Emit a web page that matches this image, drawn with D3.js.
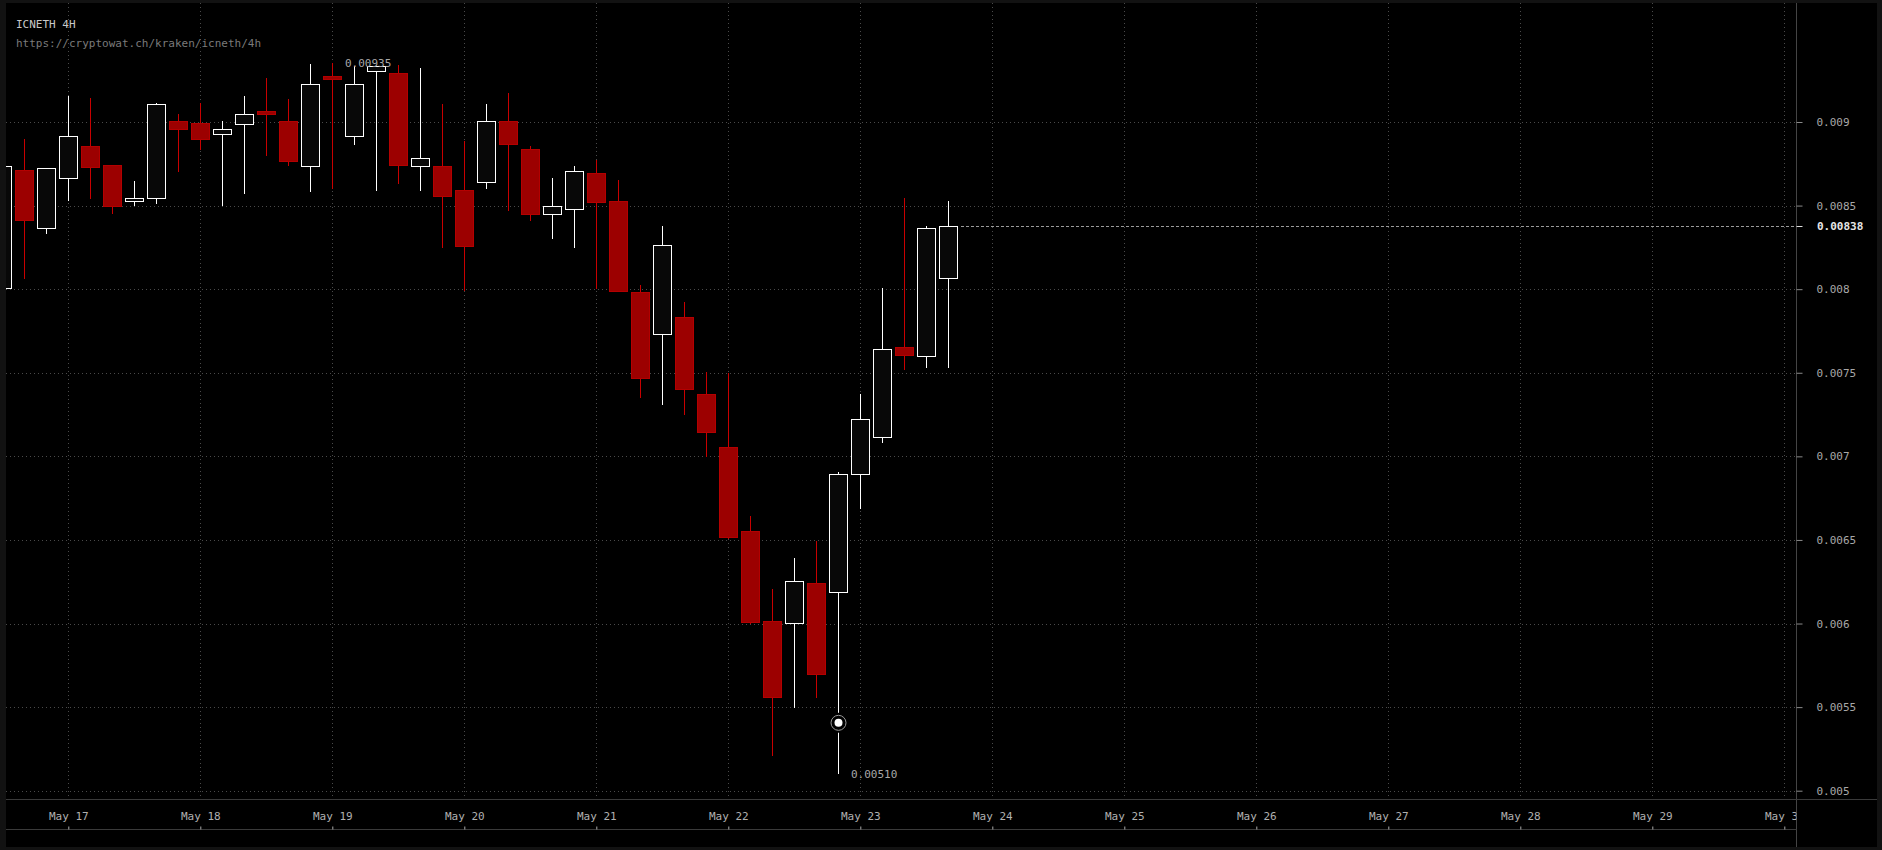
<!DOCTYPE html>
<html>
<head>
<meta charset="utf-8">
<script src="https://cdn.jsdelivr.net/npm/d3@7"></script>
<style>
  html, body { margin: 0; padding: 0; background: #121212; }
  svg { display: block; font-family: "DejaVu Sans Mono", monospace; }
</style>
</head>
<body>
<div id="chart"></div>
<script>
var W = 1882, H = 850;

// ---- data (ICN/ETH, Kraken, 4h candles) ----
var year = "2017";
var times = [
  "05-16 12:00", "05-16 16:00", "05-16 20:00",
  "05-17 00:00", "05-17 04:00", "05-17 08:00", "05-17 12:00", "05-17 16:00", "05-17 20:00",
  "05-18 00:00", "05-18 04:00", "05-18 08:00", "05-18 12:00", "05-18 16:00", "05-18 20:00",
  "05-19 00:00", "05-19 04:00", "05-19 08:00", "05-19 12:00", "05-19 16:00", "05-19 20:00",
  "05-20 00:00", "05-20 04:00", "05-20 08:00", "05-20 12:00", "05-20 16:00", "05-20 20:00",
  "05-21 00:00", "05-21 04:00", "05-21 08:00", "05-21 12:00", "05-21 16:00", "05-21 20:00",
  "05-22 00:00", "05-22 04:00", "05-22 08:00", "05-22 12:00", "05-22 16:00", "05-22 20:00",
  "05-23 00:00", "05-23 04:00", "05-23 08:00", "05-23 12:00", "05-23 16:00"
];
var open = [
  0.008005, 0.008711, 0.008364,
  0.008663, 0.008855, 0.008741, 0.008529, 0.008544, 0.009004,
  0.008992, 0.008926, 0.008986, 0.009064, 0.009004, 0.008739,
  0.009273, 0.008914, 0.009303, 0.009291, 0.008739, 0.008735,
  0.008591, 0.008643, 0.009004, 0.008837, 0.008452, 0.008481,
  0.008693, 0.008526, 0.007981, 0.007730, 0.007832, 0.007371,
  0.007054, 0.006552, 0.006014, 0.006002, 0.006241, 0.006191,
  0.006893, 0.007114, 0.007653, 0.007602, 0.008065
];
var high = [
  0.008735, 0.008897, 0.008725,
  0.009156, 0.009142, 0.008741, 0.008647, 0.009114, 0.009048,
  0.009114, 0.009006, 0.009156, 0.009263, 0.009138, 0.009347,
  0.009350, 0.009335, 0.009335, 0.009340, 0.009323, 0.009108,
  0.008885, 0.009108, 0.009173, 0.008856, 0.008665, 0.008737,
  0.008773, 0.008653, 0.008025, 0.008378, 0.007923, 0.007505,
  0.007497, 0.006644, 0.006207, 0.006392, 0.006494, 0.006905,
  0.007373, 0.008007, 0.008545, 0.008378, 0.008528
];
var low = [
  0.008005, 0.008063, 0.008332,
  0.008528, 0.008539, 0.008452, 0.008499, 0.008511, 0.008703,
  0.008834, 0.008499, 0.008571, 0.008798, 0.008739, 0.008583,
  0.008601, 0.008864, 0.008589, 0.008631, 0.008589, 0.008248,
  0.007991, 0.008601, 0.008468, 0.008408, 0.008300, 0.008248,
  0.008001, 0.007991, 0.007351, 0.007307, 0.007248, 0.006998,
  0.006504, 0.005999, 0.005210, 0.005497, 0.005557, 0.005100,
  0.006687, 0.007082, 0.007517, 0.007531, 0.007531
];
var close = [
  0.008735, 0.008412, 0.008723,
  0.008914, 0.008733, 0.008499, 0.008544, 0.009106, 0.008960,
  0.008900, 0.008956, 0.009046, 0.009046, 0.008765, 0.009225,
  0.009259, 0.009225, 0.009333, 0.008741, 0.008783, 0.008556,
  0.008260, 0.009004, 0.008870, 0.008452, 0.008496, 0.008705,
  0.008523, 0.007991, 0.007471, 0.008263, 0.007401, 0.007148,
  0.006520, 0.006011, 0.005559, 0.006253, 0.005700, 0.006893,
  0.007222, 0.007641, 0.007608, 0.008364, 0.008380
];
var priceTicks = [0.005, 0.0055, 0.006, 0.0065, 0.007, 0.0075, 0.008, 0.0085, 0.009];
var priceTickLabels = ["0.005", "0.0055", "0.006", "0.0065", "0.007", "0.0075", "0.008", "0.0085", "0.009"];
var dayTicks = ["05-17", "05-18", "05-19", "05-20", "05-21", "05-22", "05-23",
                "05-24", "05-25", "05-26", "05-27", "05-28", "05-29", "05-30"];
var lastPrice = 0.00838, lastPriceLabel = "0.00838";
var highLabel = "0.00935", lowLabel = "0.00510";
var markerTime = "05-22 20:00", markerPrice = 0.005406;
var title = "ICNETH 4H", subtitle = "https://cryptowat.ch/kraken/icneth/4h";

// ---- layout ----
var plot = {left: 6, top: 3, right: 1796.5, bottom: 799.5};
var axisBottomLine = 829.5;

var parseTime = d3.utcParse("%Y-%m-%d %H:%M");
var parseDay = d3.utcParse("%Y-%m-%d");
var data = times.map(function(t, i) {
  return {date: parseTime(year + "-" + t), o: open[i], h: high[i], l: low[i], c: close[i]};
});

var x = d3.scaleUtc()
    .domain([parseDay(year + "-05-17"), parseDay(year + "-05-30")])
    .range([68.3, 68.3 + 132 * 13]);
var y = d3.scaleLinear().domain([0.005, 0.009]).range([790.7, 122]);

var svg = d3.select("#chart").append("svg")
    .attr("width", W).attr("height", H);

svg.append("rect").attr("width", W).attr("height", H).attr("fill", "#121212");
svg.append("rect").attr("x", 6).attr("y", 3).attr("width", W - 11).attr("height", H - 6).attr("fill", "#000");

var defs = svg.append("defs");
defs.append("clipPath").attr("id", "plotClip").append("rect")
    .attr("x", plot.left).attr("y", plot.top)
    .attr("width", plot.right - plot.left).attr("height", plot.bottom - plot.top);
defs.append("clipPath").attr("id", "xClip").append("rect")
    .attr("x", plot.left).attr("y", plot.bottom)
    .attr("width", plot.right - plot.left).attr("height", 40);

// grid
var grid = svg.append("g").attr("clip-path", "url(#plotClip)");
grid.selectAll(".hgrid").data(priceTicks).enter().append("line")
    .attr("x1", plot.left).attr("x2", plot.right)
    .attr("y1", function(d) { return Math.round(y(d)) + 0.5; })
    .attr("y2", function(d) { return Math.round(y(d)) + 0.5; })
    .attr("stroke", "#4a4a4a").attr("stroke-dasharray", "1,3");
grid.selectAll(".vgrid").data(dayTicks).enter().append("line")
    .attr("x1", function(d) { return Math.round(x(parseDay(year + "-" + d))) + 0.5; })
    .attr("x2", function(d) { return Math.round(x(parseDay(year + "-" + d))) + 0.5; })
    .attr("y1", plot.top).attr("y2", plot.bottom)
    .attr("stroke", "#4a4a4a").attr("stroke-dasharray", "1,3");

// title
svg.append("text").attr("x", 16).attr("y", 28)
    .attr("fill", "#c8c8c8").style("font-size", "11px").text(title);
svg.append("text").attr("x", 16).attr("y", 47)
    .attr("fill", "#7a7a7a").style("font-size", "11px").text(subtitle);

// last price line
var lastX = x(data[data.length - 1].date);
svg.append("line")
    .attr("x1", Math.round(lastX) + 13).attr("x2", plot.right)
    .attr("y1", Math.round(y(lastPrice)) + 0.5).attr("y2", Math.round(y(lastPrice)) + 0.5)
    .attr("stroke", "#9a9a9a").attr("stroke-dasharray", "3,2");

// candles
var candles = svg.append("g").attr("clip-path", "url(#plotClip)")
  .selectAll("g").data(data).enter().append("g");

function px(d) { return Math.round(x(d.date)); }
function isUp(d) { return d.c >= d.o; }

candles.append("line")
    .attr("x1", function(d) { return px(d) + 0.5; })
    .attr("x2", function(d) { return px(d) + 0.5; })
    .attr("y1", function(d) { return Math.round(y(d.h)); })
    .attr("y2", function(d) { return Math.round(y(d.l)); })
    .attr("stroke", function(d) { return isUp(d) ? "#ffffff" : "#c80000"; });

candles.append("rect")
    .attr("x", function(d) { return px(d) - 8.5; })
    .attr("width", 18)
    .attr("y", function(d) { return Math.round(y(Math.max(d.o, d.c))) + 0.5; })
    .attr("height", function(d) {
      return Math.max(2, Math.round(y(Math.min(d.o, d.c))) - Math.round(y(Math.max(d.o, d.c))));
    })
    .attr("fill", function(d) { return isUp(d) ? "#080808" : "#9c0000"; })
    .attr("stroke", function(d) { return isUp(d) ? "#ffffff" : "#b40000"; });

// high / low annotations
var hiC = data.reduce(function(a, b) { return b.h > a.h ? b : a; });
var loC = data.reduce(function(a, b) { return b.l < a.l ? b : a; });
svg.append("text").attr("x", px(hiC) + 13).attr("y", y(hiC.h) + 4)
    .attr("fill", "#a8a8a8").style("font-size", "11px").text(highLabel);
svg.append("text").attr("x", px(loC) + 13).attr("y", y(loC.l) + 4)
    .attr("fill", "#a8a8a8").style("font-size", "11px").text(lowLabel);

// hover marker
var mx = px({date: parseTime(year + "-" + markerTime)}) + 0.5, my = y(markerPrice);
svg.append("circle").attr("cx", mx).attr("cy", my).attr("r", 10).attr("fill", "#000");
svg.append("circle").attr("cx", mx).attr("cy", my).attr("r", 7.5)
    .attr("fill", "none").attr("stroke", "#9a9a9a");
svg.append("circle").attr("cx", mx).attr("cy", my).attr("r", 4).attr("fill", "#fff");

// axes frame lines
svg.append("line").attr("x1", plot.right).attr("x2", plot.right)
    .attr("y1", 3).attr("y2", H - 3).attr("stroke", "#444");
svg.append("line").attr("x1", plot.left).attr("x2", W - 5)
    .attr("y1", plot.bottom).attr("y2", plot.bottom).attr("stroke", "#3a3a3a");
svg.append("line").attr("x1", plot.left).attr("x2", plot.right)
    .attr("y1", axisBottomLine).attr("y2", axisBottomLine).attr("stroke", "#3a3a3a");

// y axis
var yAxis = d3.axisRight(y)
    .tickValues(priceTicks)
    .tickFormat(function(d, i) { return priceTickLabels[i]; })
    .tickSize(6).tickPadding(14);
var gy = svg.append("g")
    .attr("transform", "translate(" + plot.right + ",0)")
    .call(yAxis);
gy.select(".domain").remove();
gy.selectAll(".tick line").attr("stroke", "#8a8a8a");
gy.selectAll(".tick text").attr("fill", "#a8a8a8").style("font-size", "11px")
    .style("font-family", "DejaVu Sans Mono, monospace");

// last price tick + label
var ly = Math.round(y(lastPrice)) + 0.5;
svg.append("line").attr("x1", plot.right).attr("x2", plot.right + 6)
    .attr("y1", ly).attr("y2", ly).attr("stroke", "#dddddd");
svg.append("text").attr("x", plot.right + 20.5).attr("y", ly).attr("dy", "0.32em")
    .attr("fill", "#e6e6e6").style("font-size", "11px").style("font-weight", "bold")
    .text(lastPriceLabel);

// x axis
var xAxis = d3.axisTop(x)
    .tickValues(dayTicks.map(function(d) { return parseDay(year + "-" + d); }))
    .tickFormat(d3.utcFormat("%b %-d"))
    .tickSize(3).tickSizeOuter(0).tickPadding(7);
var gx = svg.append("g")
    .attr("clip-path", "url(#xClip)")
    .append("g")
    .attr("transform", "translate(0," + axisBottomLine + ")")
    .call(xAxis);
gx.select(".domain").remove();
gx.selectAll(".tick line").attr("stroke", "#aaaaaa");
gx.selectAll(".tick text").attr("fill", "#b0b0b0").style("font-size", "11px")
    .style("font-family", "DejaVu Sans Mono, monospace");
</script>
</body>
</html>
